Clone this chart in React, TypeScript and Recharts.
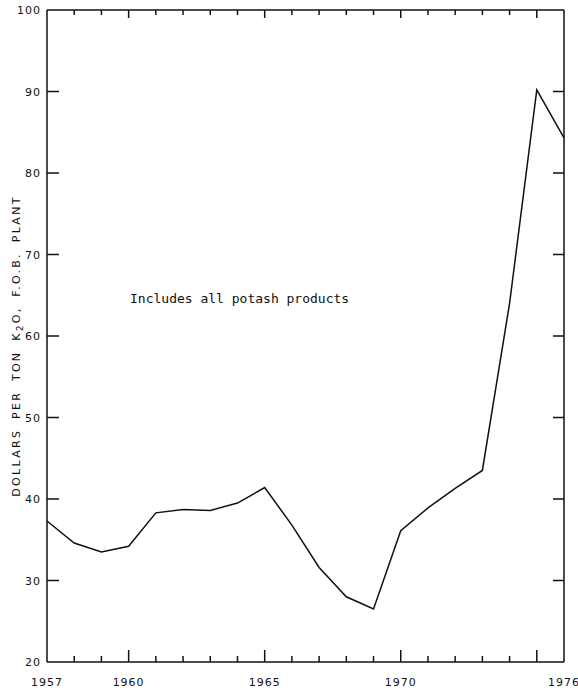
import React from 'react';
import { LineChart, Line, XAxis, YAxis } from 'recharts';

// Potash price, dollars per ton K2O, f.o.b. plant
const years = [1957, 1958, 1959, 1960, 1961, 1962, 1963, 1964, 1965, 1966, 1967, 1968, 1969, 1970, 1971, 1972, 1973, 1974, 1975, 1976];
const prices = [37.3, 34.6, 33.5, 34.2, 38.3, 38.7, 38.6, 39.5, 41.4, 36.8, 31.6, 28.0, 26.5, 36.1, 38.9, 41.3, 43.5, 64.0, 90.2, 84.3];

const labeledYears = [1957, 1960, 1965, 1970, 1976];
const majorYears = [1960, 1965, 1970, 1975];
const yTicks = [20, 30, 40, 50, 60, 70, 80, 90, 100];
const innerYTicks = [30, 40, 50, 60, 70, 80, 90];

const chartData = years.map((year, i) => ({ year, price: prices[i] }));

const FONT = '"DejaVu Sans", sans-serif';
const INK = '#111';

const BottomTick = (props: any) => {
  const { x, y, payload } = props;
  const v = Number(payload.value);
  const len = majorYears.indexOf(v) >= 0 ? 12 : 6;
  const showLine = v !== 1957 && v !== 1976;
  const showLabel = labeledYears.indexOf(v) >= 0;
  return (
    <g>
      <line x1={x} y1={y} x2={x} y2={y - (showLine ? len : 0)} stroke={INK} strokeWidth={1.5} />
      {showLabel ? (
        <text x={x} y={y + 24} textAnchor="middle" fontSize={11} fontFamily={FONT} fill={INK} letterSpacing={1}>
          {v}
        </text>
      ) : null}
    </g>
  );
};

const TopTick = (props: any) => {
  const { x, y, payload } = props;
  const v = Number(payload.value);
  const showLine = v !== 1957 && v !== 1976;
  const len = majorYears.indexOf(v) >= 0 ? 8 : 5;
  return (
    <g>
      <line x1={x} y1={y} x2={x} y2={y + (showLine ? len : 0)} stroke={INK} strokeWidth={1.5} />
    </g>
  );
};

const LeftTick = (props: any) => {
  const { x, y, payload } = props;
  const v = Number(payload.value);
  const showLine = innerYTicks.indexOf(v) >= 0;
  return (
    <g>
      <line x1={x} y1={y} x2={x + (showLine ? 12 : 0)} y2={y} stroke={INK} strokeWidth={1.5} />
      <text x={x - 6} y={y + 4} textAnchor="end" fontSize={11} fontFamily={FONT} fill={INK} letterSpacing={1}>
        {v}
      </text>
    </g>
  );
};

const RightTick = (props: any) => {
  const { x, y, payload } = props;
  const v = Number(payload.value);
  const showLine = innerYTicks.indexOf(v) >= 0;
  return (
    <g>
      <line x1={x} y1={y} x2={x - (showLine ? 11 : 0)} y2={y} stroke={INK} strokeWidth={1.5} />
    </g>
  );
};

export default function App() {
  const axisLine = { stroke: INK, strokeWidth: 1.5 };
  return (
    <div style={{ position: 'absolute', left: 0, top: 0, width: 578, height: 688, background: '#fff', overflow: 'hidden' }}>
      <LineChart width={578} height={688} data={chartData} margin={{ top: 0, right: 0, bottom: 0, left: 0 }}>
        <XAxis
          xAxisId="bottom"
          dataKey="year"
          type="number"
          domain={[1957, 1976]}
          ticks={years}
          interval={0}
          height={26}
          tickSize={0}
          tickMargin={0}
          axisLine={axisLine}
          tick={<BottomTick />}
        />
        <XAxis
          xAxisId="top"
          orientation="top"
          dataKey="year"
          type="number"
          domain={[1957, 1976]}
          ticks={years}
          interval={0}
          height={10}
          tickSize={0}
          tickMargin={0}
          axisLine={axisLine}
          tick={<TopTick />}
        />
        <YAxis
          yAxisId="left"
          dataKey="price"
          type="number"
          domain={[20, 100]}
          ticks={yTicks}
          interval={0}
          width={47}
          tickSize={0}
          tickMargin={0}
          axisLine={axisLine}
          tick={<LeftTick />}
        />
        <YAxis
          yAxisId="right"
          orientation="right"
          dataKey="price"
          type="number"
          domain={[20, 100]}
          ticks={yTicks}
          interval={0}
          width={14}
          tickSize={0}
          tickMargin={0}
          axisLine={axisLine}
          tick={<RightTick />}
        />
        <Line
          xAxisId="bottom"
          yAxisId="left"
          type="linear"
          dataKey="price"
          stroke={INK}
          strokeWidth={1.5}
          dot={false}
          isAnimationActive={false}
        />
      </LineChart>
      <div
        style={{
          position: 'absolute',
          left: 17,
          top: 346,
          transform: 'translate(-50%, -50%) rotate(-90deg)',
          fontFamily: FONT,
          fontSize: 11,
          letterSpacing: 2.3,
          wordSpacing: 4,
          color: INK,
          whiteSpace: 'nowrap',
          lineHeight: '14px',
        }}
      >
        DOLLARS PER TON K<sub style={{ fontSize: 9, verticalAlign: '-3px', lineHeight: 0 }}>2</sub>O, F.O.B. PLANT
      </div>
      <div
        style={{
          position: 'absolute',
          left: 130,
          top: 291,
          fontFamily: '"DejaVu Sans Mono", monospace',
          fontSize: 13,
          color: INK,
          whiteSpace: 'nowrap',
        }}
      >
        Includes all potash products
      </div>
    </div>
  );
}
